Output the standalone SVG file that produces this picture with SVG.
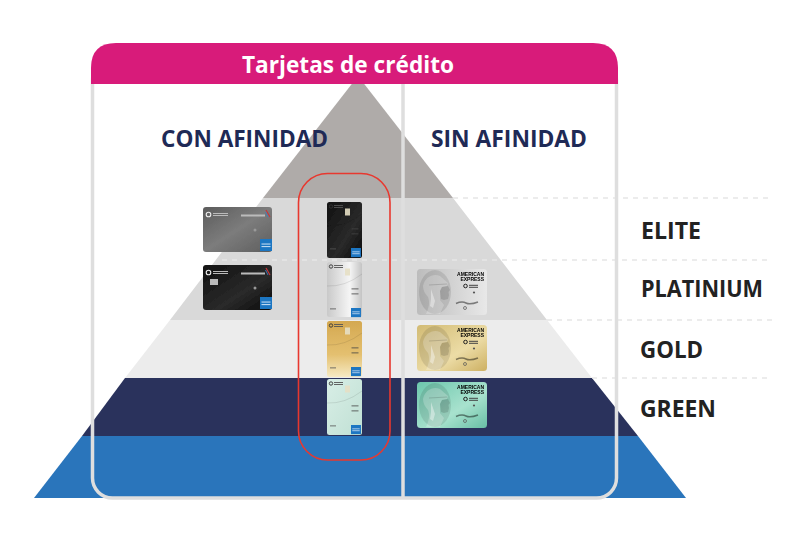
<svg xmlns="http://www.w3.org/2000/svg" width="802" height="546" viewBox="0 0 802 546">
<style>
.lbl{font-family:"Open Sans","Noto Sans","Liberation Sans",sans-serif;font-weight:700}
.side{font-size:23px;fill:#222222}
.col{font-size:23.500px;fill:#1f2a56}
.dash{stroke:#e6e6e6;stroke-width:1.5;stroke-dasharray:5 5;fill:none}
.tiny{font-family:"Liberation Sans",sans-serif;font-weight:700}
.soft{filter:url(#soft)}
</style>
<defs>
<filter id="soft" x="-5%" y="-5%" width="110%" height="110%"><feGaussianBlur stdDeviation="0.45"/></filter>
<linearGradient id="gGray" x1="0" y1="0" x2="1" y2="1"><stop offset="0" stop-color="#5c5c5c"/><stop offset=".5" stop-color="#7c7c7c"/><stop offset="1" stop-color="#5e5e5e"/></linearGradient>
<linearGradient id="gBlack" x1="0" y1="0" x2="1" y2="1"><stop offset="0" stop-color="#111111"/><stop offset=".6" stop-color="#2a2a2a"/><stop offset="1" stop-color="#0a0a0a"/></linearGradient>
<linearGradient id="gSilverV" x1="0" y1="0" x2="1" y2="0"><stop offset="0" stop-color="#c9c9c9"/><stop offset=".65" stop-color="#f5f5f5"/><stop offset="1" stop-color="#c4c4c4"/></linearGradient>
<linearGradient id="gGoldV" x1="0" y1="0" x2="0" y2="1"><stop offset="0" stop-color="#d4a850"/><stop offset=".6" stop-color="#e4c070"/><stop offset="1" stop-color="#f6eac4"/></linearGradient>
<linearGradient id="gGreenV" x1="0" y1="0" x2="1" y2="1"><stop offset="0" stop-color="#d8eee6"/><stop offset="1" stop-color="#c0e0d4"/></linearGradient>
<linearGradient id="gSilverL" x1="0" y1="0" x2="1" y2="0"><stop offset="0" stop-color="#bcbcbc"/><stop offset="1" stop-color="#e8e8e8"/></linearGradient>
<linearGradient id="gGoldL" x1="0" y1="0" x2="1" y2="1"><stop offset="0" stop-color="#d2bb74"/><stop offset=".6" stop-color="#ecdca6"/><stop offset="1" stop-color="#cdb062"/></linearGradient>
<linearGradient id="gGreenL" x1="0" y1="0" x2="1" y2="1"><stop offset="0" stop-color="#6cc6ac"/><stop offset=".6" stop-color="#a8e2ce"/><stop offset="1" stop-color="#68bfa5"/></linearGradient>
<g id="amexBox"><rect width="12" height="12" fill="#1f76c2"/><rect x="1.500" y="4.500" width="9" height="1.100" fill="#bcd8f0"/><rect x="1.500" y="7" width="9" height="1.100" fill="#bcd8f0"/></g>
<g id="head">
<ellipse cx="17" cy="22" rx="16" ry="22" fill="#000" fill-opacity=".1"/>
<path d="M5 16C7 7 15 3 22 6L30 13 29 16 24 17 22 21 22 30 26 35 22 44H8C11 38 12 32 10 27 7 24 5 20 5 16Z" fill="#fff" fill-opacity=".22"/>
<path d="M24 17L30 16 32 20 30.500 22 31 25 30 29 26 30 23 29 22 21Z" fill="#000" fill-opacity=".13"/>
<path d="M13 19L17 31 15 38 12 36 13 29Z" fill="#fff" fill-opacity=".4"/>
<path d="M11 15L29 14" stroke="#000" stroke-opacity=".14" stroke-width="1.200"/>
</g>
<g id="landFace">
<use href="#head"/>
<text class="tiny" x="66" y="6" font-size="5" text-anchor="end" fill="#000">AMERICAN</text>
<text class="tiny" x="66" y="11" font-size="5" text-anchor="end" fill="#000">EXPRESS</text>
<circle cx="47.500" cy="16" r="1.800" fill="none" stroke="#222" stroke-width="1"/>
<rect x="51" y="14.800" width="9" height="1" fill="#444"/><rect x="51" y="16.800" width="9" height="1" fill="#444"/>
<circle cx="56" cy="22.500" r="1.100" fill="#555"/>
<path d="M38 33.500Q44 31 48 33T60 32" fill="none" stroke="#000" stroke-opacity=".45" stroke-width="1.500"/>
<circle cx="47" cy="38" r="1.500" fill="none" stroke="#555" stroke-width=".7"/>
</g>
<g id="vertFace">
<circle cx="4" cy="4.500" r="1.700" fill="none" stroke="#333" stroke-width=".9"/><rect x="7" y="3" width="9" height=".9" fill="#555"/><rect x="7" y="5" width="9" height=".9" fill="#555"/>
<rect x="18" y="6.500" width="5" height="7" fill="#e6dfc4" fill-opacity=".9"/>
<path d="M0 24Q18 25 35 12" fill="none" stroke="#000" stroke-opacity=".12" stroke-width=".8"/>
<rect x="24.500" y="26.500" width="7" height=".8" fill="#444"/><rect x="24.500" y="31.500" width="7" height=".8" fill="#444"/>
<rect x="3" y="46.500" width="6" height=".8" fill="#555"/>
<use href="#amexBox" transform="translate(24 46) scale(.83 .76)"/>
</g>
<g id="landBlack">
<circle cx="5.500" cy="7.500" r="2.300" fill="none" stroke="#eee" stroke-width="1.100"/>
<rect x="10" y="6" width="15" height="1" fill="#bbb"/><rect x="10" y="8" width="15" height="1" fill="#bbb"/>
<rect x="38" y="7.500" width="24" height="2" fill="#bbb"/><path d="M63 3L67 10" stroke="#c8353a" stroke-width="1.200"/><path d="M62.500 5L65 10" stroke="#3a7fc1" stroke-width=".9"/>
<circle cx="52" cy="23" r="1.500" fill="#999"/>
<use href="#amexBox" x="57" y="32"/>
</g>
</defs>

<g id="pyramid">
<path id="band-top" d="M358 76L453 198H263Z" fill="#afaba9"/>
<path id="band-elite-platinium" d="M263 198H453L547 320H170Z" fill="#d9d9d9"/>
<path id="band-gold" d="M170 320H547L592 378H125Z" fill="#ececec"/>
<path id="band-green" d="M125 378H592L638 436H82Z" fill="#2a325c"/>
<path id="band-blue" d="M82 436H638L686 498H34Z" fill="#2a75bb"/>
</g>

<g id="connectors">
<path class="dash" d="M453 198H772"/>
<path class="dash" d="M222 260H770"/>
<path class="dash" d="M547 320H772"/>
<path class="dash" d="M592 378H772"/>
</g>

<g id="frame">
<rect x="92.500" y="60" width="524" height="438" rx="20" fill="none" stroke="#dedede" stroke-width="3.500"/>
<path d="M403 84V498" stroke="#dedede" stroke-width="3.500" fill="none"/>
</g>

<g id="header">
<path d="M91 84V68Q91 43 116 43H593Q618 43 618 68V84Z" fill="#d81b7a"/>
<text class="lbl" x="242" y="72.500" font-size="23.500" fill="#ffffff" textLength="212" lengthAdjust="spacingAndGlyphs">Tarjetas de crédito</text>
</g>

<g id="col-con"><text class="lbl col" x="161" y="146.500" textLength="167" lengthAdjust="spacingAndGlyphs">CON AFINIDAD</text></g>
<g id="col-sin"><text class="lbl col" x="431" y="146.500" textLength="156" lengthAdjust="spacingAndGlyphs">SIN AFINIDAD</text></g>

<g id="label-elite"><text class="lbl side" x="641" y="239" textLength="60" lengthAdjust="spacingAndGlyphs">ELITE</text></g>
<g id="label-platinium"><text class="lbl side" x="641" y="296.500" textLength="122" lengthAdjust="spacingAndGlyphs">PLATINIUM</text></g>
<g id="label-gold"><text class="lbl side" x="640" y="358" textLength="63" lengthAdjust="spacingAndGlyphs">GOLD</text></g>
<g id="label-green"><text class="lbl side" x="640" y="416.500" textLength="76" lengthAdjust="spacingAndGlyphs">GREEN</text></g>

<g id="card-aa-gray" class="soft"><rect x="203" y="207" width="69" height="45" rx="3" fill="url(#gGray)"/><use href="#landBlack" x="203" y="207"/></g>
<g id="card-aa-black" class="soft"><rect x="203" y="265" width="69" height="45" rx="3" fill="url(#gBlack)"/><use href="#landBlack" x="203" y="265"/><rect x="210" y="279" width="8" height="6" fill="#bbb"/></g>

<g id="card-v-black" class="soft"><rect x="327" y="202" width="35" height="56" rx="2.500" fill="url(#gBlack)"/><use href="#vertFace" x="327" y="202"/></g>
<g id="card-v-silver" class="soft"><rect x="327" y="262" width="35" height="55" rx="2.500" fill="url(#gSilverV)"/><use href="#vertFace" x="327" y="262"/></g>
<g id="card-v-gold" class="soft"><rect x="327" y="321" width="35" height="56" rx="2.500" fill="url(#gGoldV)"/><use href="#vertFace" x="327" y="321"/></g>
<g id="card-v-green" class="soft"><rect x="327" y="379" width="35" height="56" rx="2.500" fill="url(#gGreenV)"/><use href="#vertFace" x="327" y="379"/></g>

<g id="card-l-silver" class="soft"><rect x="417" y="269" width="70" height="46" rx="3.500" fill="url(#gSilverL)"/><use href="#landFace" x="418" y="270"/></g>
<g id="card-l-gold" class="soft"><rect x="417" y="325" width="70" height="46" rx="3.500" fill="url(#gGoldL)"/><use href="#landFace" x="418" y="326"/></g>
<g id="card-l-green" class="soft"><rect x="417" y="382" width="70" height="46" rx="3.500" fill="url(#gGreenL)"/><use href="#landFace" x="418" y="383"/></g>

<g id="highlight"><rect x="298.500" y="173.500" width="91.500" height="286.500" rx="29" fill="none" stroke="#e8382f" stroke-width="1.600"/></g>
</svg>
